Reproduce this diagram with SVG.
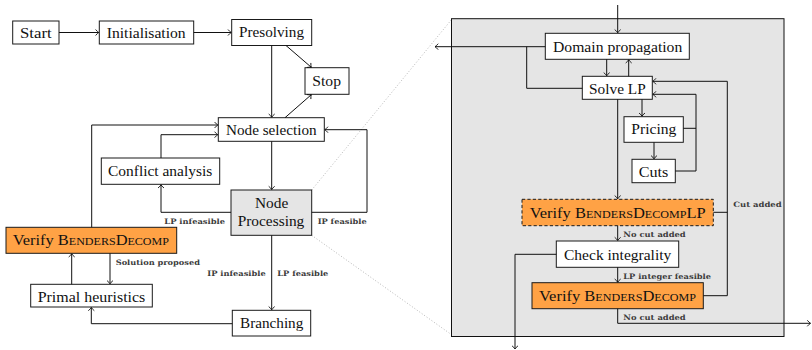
<svg xmlns="http://www.w3.org/2000/svg" width="812" height="350" viewBox="0 0 812 350">
<defs>
<marker id="ar" markerUnits="userSpaceOnUse" markerWidth="10" markerHeight="10" refX="0" refY="0" viewBox="-5 -5 10 10" orient="auto">
<path d="M-3.2,-3 Q-1.2,-0.6 0,0 Q-1.2,0.6 -3.2,3" fill="none" stroke="#111" stroke-width="0.9"/>
</marker>
<style>
.box{fill:#fff;stroke:#1a1a1a;stroke-width:1}
.gray{fill:#e5e5e5;stroke:#1a1a1a;stroke-width:1}
.org{fill:#ffa245;stroke:#1a1a1a;stroke-width:1}
.dash{stroke-dasharray:3.2,2.2}
.t{font-family:'Liberation Serif','DejaVu Serif',serif;font-size:15px;fill:#111}
.sc{font-variant:small-caps}
.lb{font-family:'DejaVu Serif','Liberation Serif',serif;font-size:7.4px;font-weight:bold;fill:#3c3c3c}
.c{fill:none;stroke:#111;stroke-width:1}
.ca{fill:none;stroke:#111;stroke-width:1;marker-end:url(#ar)}
.dot{fill:none;stroke:#b8b8b8;stroke-width:1;stroke-dasharray:1,2}
</style>
</defs>

<g id="zoom-lines">
<line class="dot" x1="311.7" y1="190" x2="452" y2="19"/>
<line class="dot" x1="311.7" y1="235.3" x2="452" y2="335"/>
</g>

<g id="panel">
<rect x="451.5" y="18.7" width="332.5" height="317.8" fill="#e5e5e5" stroke="#111" stroke-width="1"/>
</g>

<g id="start"><rect class="box" x="12.7" y="21" width="46.3" height="23"/><text class="t" x="20" y="38.3" textLength="31.7" lengthAdjust="spacingAndGlyphs">Start</text></g>
<g id="initialisation"><rect class="box" x="99.3" y="21" width="94.4" height="23"/><text class="t" x="106.7" y="38.3" textLength="79" lengthAdjust="spacingAndGlyphs">Initialisation</text></g>
<g id="presolving"><rect class="box" x="231.7" y="19.5" width="80" height="26"/><text class="t" x="239" y="36.5" textLength="65" lengthAdjust="spacingAndGlyphs">Presolving</text></g>
<g id="stop"><rect class="box" x="305" y="67.7" width="44" height="26.6"/><text class="t" x="312.3" y="85.5" textLength="28.7" lengthAdjust="spacingAndGlyphs">Stop</text></g>
<g id="node-selection"><rect class="box" x="218.3" y="117.7" width="106" height="23.6"/><text class="t" x="226" y="135.3" textLength="90.7" lengthAdjust="spacingAndGlyphs">Node selection</text></g>
<g id="conflict-analysis"><rect class="box" x="101.3" y="158" width="118.4" height="26.3"/><text class="t" x="108" y="176" textLength="104.3" lengthAdjust="spacingAndGlyphs">Conflict analysis</text></g>
<g id="node-processing"><rect class="gray" x="231" y="190" width="80.7" height="45.3"/><text class="t" x="255" y="207.5" textLength="33.3" lengthAdjust="spacingAndGlyphs">Node</text><text class="t" x="237.7" y="226" textLength="66.6" lengthAdjust="spacingAndGlyphs">Processing</text></g>
<g id="verify-left"><rect class="org" x="6" y="227.3" width="170.7" height="26"/><text class="t" x="12.7" y="245.3" textLength="156.3" lengthAdjust="spacingAndGlyphs">Verify <tspan class="sc">BendersDecomp</tspan></text></g>
<g id="primal-heuristics"><rect class="box" x="30.7" y="284.3" width="121.6" height="22.7"/><text class="t" x="37.7" y="301.5" textLength="107.6" lengthAdjust="spacingAndGlyphs">Primal heuristics</text></g>
<g id="branching"><rect class="box" x="232.3" y="310.3" width="78.4" height="25.7"/><text class="t" x="240" y="328" textLength="63.3" lengthAdjust="spacingAndGlyphs">Branching</text></g>

<g id="domain-propagation"><rect class="box" x="545.3" y="33.3" width="144" height="26"/><text class="t" x="553" y="51.5" textLength="129.3" lengthAdjust="spacingAndGlyphs">Domain propagation</text></g>
<g id="solve-lp"><rect class="box" x="582.3" y="76.3" width="70" height="23"/><text class="t" x="589" y="93.5" textLength="56.7" lengthAdjust="spacingAndGlyphs">Solve LP</text></g>
<g id="pricing"><rect class="box" x="624" y="116.7" width="59.3" height="25.6"/><text class="t" x="631.3" y="134" textLength="45" lengthAdjust="spacingAndGlyphs">Pricing</text></g>
<g id="cuts"><rect class="box" x="632" y="159.3" width="43.3" height="23.4"/><text class="t" x="638.7" y="176.5" textLength="29.6" lengthAdjust="spacingAndGlyphs">Cuts</text></g>
<g id="verify-lp"><rect class="org dash" x="522" y="199.3" width="191.3" height="26.4"/><text class="t" x="529.7" y="217.8" textLength="176" lengthAdjust="spacingAndGlyphs">Verify <tspan class="sc">BendersDecomp</tspan>LP</text></g>
<g id="check-integrality"><rect class="box" x="556.3" y="241" width="122.4" height="26.3"/><text class="t" x="564" y="259.5" textLength="107.3" lengthAdjust="spacingAndGlyphs">Check integrality</text></g>
<g id="verify-right"><rect class="org" x="532" y="282.7" width="171.3" height="26"/><text class="t" x="539" y="301" textLength="157" lengthAdjust="spacingAndGlyphs">Verify <tspan class="sc">BendersDecomp</tspan></text></g>

<g id="connectors">
<line class="ca" x1="59" y1="32.5" x2="98.8" y2="32.5"/>
<line class="ca" x1="193.7" y1="32.5" x2="231.2" y2="32.5"/>
<line class="ca" x1="271.7" y1="45.5" x2="271.7" y2="117.2"/>
<line class="ca" x1="286" y1="45.5" x2="311.3" y2="67.3"/>
<line class="ca" x1="285" y1="117.7" x2="311.3" y2="94.7"/>
<line class="ca" x1="271.7" y1="141.3" x2="271.7" y2="189.5"/>
<polyline class="ca" points="311.7,212.3 367,212.3 367,129.7 324.8,129.7"/>
<polyline class="ca" points="231,212.3 161,212.3 161,184.8"/>
<polyline class="ca" points="161,158 161,134.7 217.8,134.7"/>
<polyline class="ca" points="91.7,227.3 91.7,125 217.8,125"/>
<line class="ca" x1="110" y1="253.3" x2="110" y2="283.8"/>
<line class="ca" x1="71.7" y1="284.3" x2="71.7" y2="253.8"/>
<line class="ca" x1="271.7" y1="235.3" x2="271.7" y2="309.8"/>
<polyline class="ca" points="232.3,323.7 91.3,323.7 91.3,307.5"/>

<line class="ca" x1="617.7" y1="5" x2="617.7" y2="32.8"/>
<line class="ca" x1="545.3" y1="46.7" x2="435" y2="46.7"/>
<polyline class="c" points="526.7,46.7 526.7,88.3 582.3,88.3"/>
<line class="ca" x1="606.7" y1="59.3" x2="606.7" y2="75.8"/>
<line class="ca" x1="628.7" y1="76.3" x2="628.7" y2="59.8"/>
<line class="ca" x1="642" y1="99.3" x2="642" y2="116.2"/>
<line class="ca" x1="654" y1="142.3" x2="654" y2="158.8"/>
<line class="c" x1="683.3" y1="128.3" x2="696" y2="128.3"/>
<polyline class="ca" points="675.3,171 696,171 696,94.3 652.8,94.3"/>
<polyline class="ca" points="703.3,295.7 727.3,295.7 727.3,81.3 652.8,81.3"/>
<line class="c" x1="713.3" y1="212.3" x2="727.3" y2="212.3"/>
<line class="ca" x1="617.7" y1="99.3" x2="617.7" y2="198.8"/>
<line class="ca" x1="617.7" y1="225.7" x2="617.7" y2="240.5"/>
<line class="ca" x1="617.7" y1="267.3" x2="617.7" y2="282.2"/>
<polyline class="ca" points="556.3,254.3 515,254.3 515,349"/>
<polyline class="ca" points="617.7,308.7 617.7,323.3 810.5,323.3"/>
</g>

<g id="labels">
<text class="lb" x="164.3" y="224.2" textLength="60.7" lengthAdjust="spacingAndGlyphs">LP infeasible</text>
<text class="lb" x="317.7" y="224.2" textLength="49" lengthAdjust="spacingAndGlyphs">IP feasible</text>
<text class="lb" x="115.7" y="264.9" textLength="84.3" lengthAdjust="spacingAndGlyphs">Solution proposed</text>
<text class="lb" x="207.3" y="275.9" textLength="58.4" lengthAdjust="spacingAndGlyphs">IP infeasible</text>
<text class="lb" x="277.3" y="275.9" textLength="51" lengthAdjust="spacingAndGlyphs">LP feasible</text>
<text class="lb" x="733.3" y="206.9" textLength="48.4" lengthAdjust="spacingAndGlyphs">Cut added</text>
<text class="lb" x="623.3" y="236.6" textLength="62.4" lengthAdjust="spacingAndGlyphs">No cut added</text>
<text class="lb" x="623.3" y="278.9" textLength="87.7" lengthAdjust="spacingAndGlyphs">LP integer feasible</text>
<text class="lb" x="623.3" y="319.6" textLength="62.4" lengthAdjust="spacingAndGlyphs">No cut added</text>
</g>
</svg>
